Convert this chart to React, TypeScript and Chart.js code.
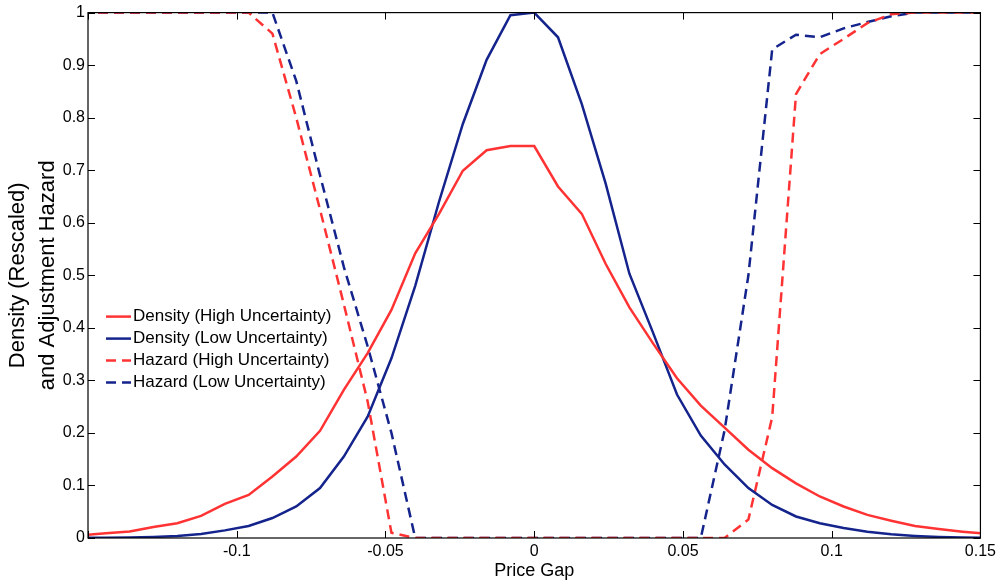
import React, { useEffect, useRef } from "react";
import { Chart, registerables } from "chart.js";

Chart.register(...registerables);

// Price gap grid (x values)
const priceGap = [
  -0.152, -0.144, -0.136, -0.128, -0.12, -0.112, -0.104, -0.096, -0.088, -0.08,
  -0.072, -0.064, -0.056, -0.048, -0.04, -0.032, -0.024, -0.016, -0.008, 0,
  0.008, 0.016, 0.024, 0.032, 0.04, 0.048, 0.056, 0.064, 0.072, 0.08,
  0.088, 0.096, 0.104, 0.112, 0.12, 0.128, 0.136, 0.144, 0.152,
];

const densityHigh = [
  0.005, 0.009, 0.0125, 0.021, 0.028, 0.042, 0.065, 0.082, 0.117, 0.155,
  0.204, 0.282, 0.352, 0.434, 0.542, 0.617, 0.699, 0.738, 0.746, 0.746,
  0.669, 0.617, 0.522, 0.439, 0.37, 0.304, 0.252, 0.21, 0.168, 0.133,
  0.104, 0.079, 0.06, 0.044, 0.033, 0.023, 0.017, 0.012, 0.008,
];

const densityLow = [
  0.0003, 0.0005, 0.001, 0.002, 0.004, 0.0075, 0.0145, 0.023, 0.038, 0.06,
  0.095, 0.155, 0.231, 0.342, 0.48, 0.64, 0.788, 0.91, 0.995, 1.0,
  0.953, 0.826, 0.675, 0.503, 0.39, 0.273, 0.195, 0.14, 0.095, 0.063,
  0.041, 0.028, 0.019, 0.012, 0.007, 0.004, 0.002, 0.001, 0.0005,
];

const hazardHigh = [
  1, 1, 1, 1, 1, 1, 1, 1, 0.96, 0.8,
  0.625, 0.445, 0.26, 0.01, 0, 0, 0, 0, 0, 0,
  0, 0, 0, 0, 0, 0, 0, 0, 0.035, 0.23,
  0.845, 0.921, 0.95, 0.98, 0.997, 1, 1, 1, 1,
];

const hazardLow = [
  1, 1, 1, 1, 1, 1, 1, 1, 1, 0.87,
  0.69, 0.516, 0.365, 0.2, 0, 0, 0, 0, 0, 0,
  0, 0, 0, 0, 0, 0, 0, 0.205, 0.5, 0.93,
  0.958, 0.953, 0.97, 0.982, 0.993, 1, 1, 1, 1,
];

const seriesLabels = [
  "Density (High Uncertainty)",
  "Density (Low Uncertainty)",
  "Hazard (High Uncertainty)",
  "Hazard (Low Uncertainty)",
];

// tick labels (index-aligned with tick values at step 0.1 / 0.05)
const yTickLabels = ["0", "0.1", "0.2", "0.3", "0.4", "0.5", "0.6", "0.7", "0.8", "0.9", "1"];
const xTickLabels = ["", "-0.1", "-0.05", "0", "0.05", "0.1", "0.15"];

const yTitle = ["Density (Rescaled)", "and Adjustment Hazard"];
const xTitle = "Price Gap";

const RED = "rgb(255,51,51)";
const BLUE = "rgb(20,36,140)";
const FONT = "'Liberation Sans', Arial, sans-serif";
const DASH = [10, 6];

const toPoints = (ys: number[]) => priceGap.map((x, i) => ({ x, y: ys[i] }));

const framePlugin = {
  id: "frame",
  afterDatasetsDraw(chart: any) {
    const { ctx, chartArea: a, scales } = chart;
    ctx.save();
    ctx.strokeStyle = "#000";
    ctx.lineWidth = 1.2;
    ctx.strokeRect(a.left, a.top, a.right - a.left, a.bottom - a.top);
    const tl = 7;
    ctx.lineWidth = 1;
    ctx.beginPath();
    scales.x.ticks.forEach((t: any) => {
      const px = Math.round(scales.x.getPixelForValue(t.value)) + 0.5;
      ctx.moveTo(px, a.bottom);
      ctx.lineTo(px, a.bottom - tl);
      ctx.moveTo(px, a.top);
      ctx.lineTo(px, a.top + tl);
    });
    scales.y.ticks.forEach((t: any) => {
      const py = Math.round(scales.y.getPixelForValue(t.value)) + 0.5;
      ctx.moveTo(a.left, py);
      ctx.lineTo(a.left + tl, py);
      ctx.moveTo(a.right, py);
      ctx.lineTo(a.right - tl, py);
    });
    ctx.stroke();
    ctx.restore();
  },
  afterDraw(chart: any) {
    const { ctx, chartArea: a } = chart;
    ctx.save();
    const x0 = a.left + 18;
    const x1 = a.left + 43;
    const tx = a.left + 45;
    const y0 = a.top + 304;
    const dy = 22;
    ctx.font = `17px ${FONT}`;
    ctx.textBaseline = "middle";
    ctx.textAlign = "left";
    chart.data.datasets.forEach((ds: any, i: number) => {
      const y = y0 + i * dy;
      ctx.strokeStyle = ds.borderColor;
      ctx.lineWidth = 2.5;
      ctx.setLineDash(ds.borderDash || []);
      ctx.beginPath();
      ctx.moveTo(x0, y);
      ctx.lineTo(x1, y);
      ctx.stroke();
      ctx.setLineDash([]);
      ctx.fillStyle = "#000";
      ctx.fillText(seriesLabels[i], tx, y);
    });
    ctx.restore();
  },
};

export default function App() {
  const ref = useRef<HTMLCanvasElement | null>(null);

  useEffect(() => {
    if (!ref.current) return;
    const chart = new Chart(ref.current, {
      type: "line",
      data: {
        datasets: [
          {
            label: seriesLabels[0],
            data: toPoints(densityHigh),
            borderColor: RED,
            borderWidth: 2.5,
            pointRadius: 0,
            tension: 0,
            fill: false,
          },
          {
            label: seriesLabels[1],
            data: toPoints(densityLow),
            borderColor: BLUE,
            borderWidth: 2.5,
            pointRadius: 0,
            tension: 0,
            fill: false,
          },
          {
            label: seriesLabels[2],
            data: toPoints(hazardHigh),
            borderColor: RED,
            borderWidth: 2.5,
            borderDash: DASH,
            pointRadius: 0,
            tension: 0,
            fill: false,
          },
          {
            label: seriesLabels[3],
            data: toPoints(hazardLow),
            borderColor: BLUE,
            borderWidth: 2.5,
            borderDash: DASH,
            pointRadius: 0,
            tension: 0,
            fill: false,
          },
        ],
      },
      options: {
        animation: false,
        responsive: true,
        maintainAspectRatio: false,
        layout: { padding: { top: 11, right: 17, bottom: 0, left: 0 } },
        plugins: {
          legend: { display: false },
          tooltip: { enabled: false },
        },
        scales: {
          x: {
            type: "linear",
            min: -0.15,
            max: 0.15,
            grid: { display: false, drawTicks: false, tickLength: 0 },
            border: { display: false },
            afterFit: (s: any) => {
              s.height = 46;
            },
            ticks: {
              stepSize: 0.05,
              padding: 4,
              color: "#000",
              font: { family: FONT, size: 16 },
              maxRotation: 0,
              callback: (_v: any, i: number) => xTickLabels[i] ?? "",
            },
            title: {
              display: true,
              text: xTitle,
              color: "#000",
              font: { family: FONT, size: 18 },
              padding: { top: 0, bottom: 2 },
            },
          },
          y: {
            type: "linear",
            min: 0,
            max: 1,
            grid: { display: false, drawTicks: false, tickLength: 0 },
            border: { display: false },
            afterFit: (s: any) => {
              s.width = 88;
            },
            ticks: {
              stepSize: 0.1,
              padding: 3,
              color: "#000",
              font: { family: FONT, size: 16 },
              callback: (_v: any, i: number) => yTickLabels[i] ?? "",
            },
            title: {
              display: true,
              text: yTitle,
              color: "#000",
              font: { family: FONT, size: 22, lineHeight: 1.36 },
              padding: { top: 3, bottom: 0 },
            },
          },
        },
      },
      plugins: [framePlugin],
    });
    return () => chart.destroy();
  }, []);

  return (
    <div
      style={{
        position: "fixed",
        left: 0,
        top: 0,
        width: 1000,
        height: 584,
        background: "#fff",
      }}
    >
      <canvas ref={ref} />
    </div>
  );
}
